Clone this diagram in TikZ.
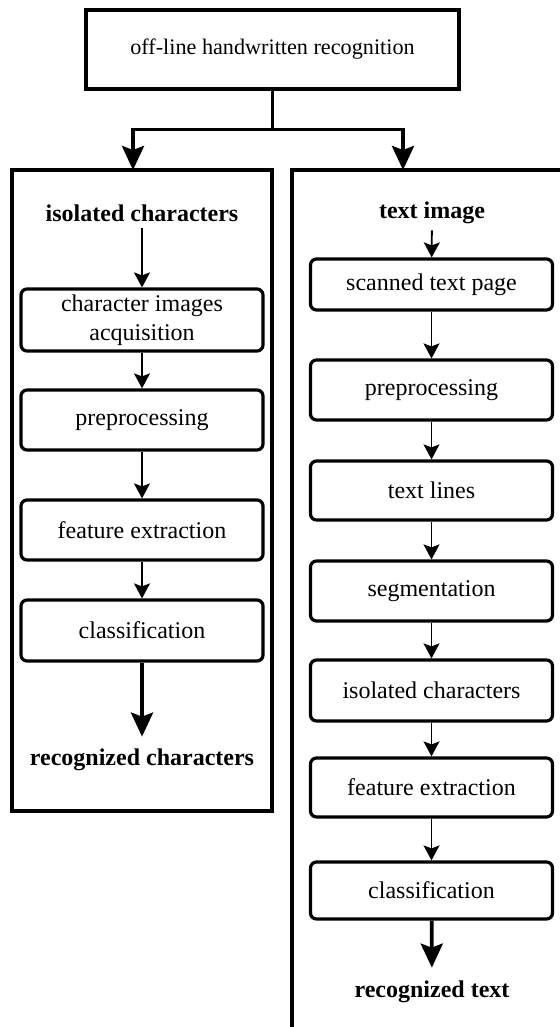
\documentclass[tikz,border=0pt]{standalone}
\usepackage{fontspec}
\setmainfont{Liberation Serif}
\usetikzlibrary{positioning,arrows.meta}

\begin{document}
\begin{tikzpicture}[x=0.5pt,y=-0.5pt,
 topbox/.style={draw,line width=1.6pt,minimum width=186.5pt,minimum height=39.5pt,
   font=\fontsize{11.1}{14}\selectfont},
 stepbox/.style={draw,line width=1.6pt,rounded corners=3pt,minimum width=121pt,
   minimum height=30pt,align=center,inner sep=1pt,font=\fontsize{12}{14.5}\selectfont},
 head/.style={font=\fontsize{12}{14.5}\selectfont\bfseries,inner sep=1pt},
 arr/.style={-{Stealth[length=7.5pt,width=8pt,inset=1.5pt]},line width=0.9pt},
 bigarr/.style={-{Stealth[length=12pt,width=11pt,inset=2pt]},line width=1.9pt},
 panel/.style={line width=2pt}]
\useasboundingbox (0,0) rectangle (560,1027);
% root and the two branches
\node[topbox] (root) at (272.5,49.5) {off-line handwritten recognition};
\coordinate (ltop) at (133,170);
\coordinate (rtop) at (403,170);
\draw[panel] (12,170) rectangle (272,811);
\draw[panel] (570,170) -- (292,170) -- (292,1035);
\draw[bigarr] (root.south) -- ++(0,39) coordinate (fork) -| (ltop);
\draw[bigarr] (fork) -| (rtop);
% left column: isolated characters
\node[head] (lhead) at (142,213) {isolated characters};
\node[stepbox,minimum height=31pt] (lacq) at (142,320) {character images\\acquisition};
\node[stepbox] (lpre) at (142,420) {preprocessing};
\node[stepbox] (lfeat) at (142,530) {feature extraction};
\node[stepbox,minimum height=30.5pt] (lcls) at (142,630.5) {classification};
\node[head] (lres) at (142,760) {recognized characters};
\draw[arr,shorten <=2pt] (lhead) -- (lacq);
\draw[arr] (lacq) -- (lpre);
\draw[arr] (lpre) -- (lfeat);
\draw[arr] (lfeat) -- (lcls);
\draw[bigarr,shorten >=5pt] (lcls) -- (lres);
% right column: text image
\node[head] (rhead) at (432,213) {text image};
\node[stepbox,minimum height=25.5pt] (rscan) at (431.5,284.5) {scanned text page};
\node[stepbox] (rpre) at (431.5,390) {preprocessing};
\node[stepbox,minimum height=29.5pt] (rlines) at (431.5,490.5) {text lines};
\node[stepbox] (rseg) at (431.5,591) {segmentation};
\node[stepbox,minimum height=30.5pt] (riso) at (431.5,690.5) {isolated characters};
\node[stepbox,minimum height=29.5pt] (rfeat) at (431.5,787.5) {feature extraction};
\node[stepbox,minimum height=28.5pt] (rcls) at (431.5,890.5) {classification};
\node[head] (rres) at (432,992) {recognized text};
\draw[arr,shorten <=2pt] (rhead) -- (rscan);
\foreach \a/\b in {rscan/rpre,rpre/rlines,rlines/rseg,rseg/riso,riso/rfeat,rfeat/rcls}
  \draw[arr] (\a) -- (\b);
\draw[bigarr,shorten >=5.5pt] (rcls) -- (rres);
\end{tikzpicture}
\end{document}
